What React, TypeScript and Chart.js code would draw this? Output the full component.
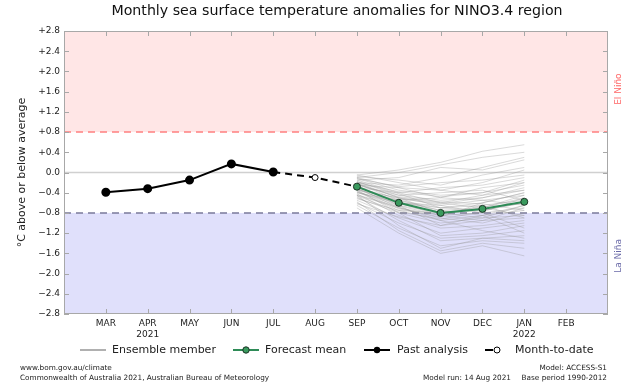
import React, { useEffect, useRef } from "react";
import { Chart, registerables } from "chart.js";

Chart.register(...registerables);

// Category slots: FEB 2021 (edge) ... MAR 2022 (edge)
const xLabels: (string | string[])[] = [
  "", "MAR", ["APR", "2021"], "MAY", "JUN", "JUL", "AUG", "SEP", "OCT", "NOV", "DEC", ["JAN", "2022"], "FEB", "",
];

const yTicks = [-2.8, -2.4, -2.0, -1.6, -1.2, -0.8, -0.4, 0, 0.4, 0.8, 1.2, 1.6, 2.0, 2.4, 2.8];

// Past analysis MAR..JUL 2021
const pastValues = [-0.39, -0.32, -0.15, 0.17, 0.01];
// Month-to-date AUG 2021
const monthToDate = -0.1;
// Forecast mean SEP 2021..JAN 2022
const meanValues = [-0.28, -0.6, -0.8, -0.72, -0.58];

// Ensemble members SEP..JAN
const ensembleMembers: number[][] = [
  [-0.05, 0.05, 0.2, 0.42, 0.55],
  [-0.1, 0.0, 0.15, 0.3, 0.4],
  [-0.15, -0.1, 0.1, 0.05, 0.25],
  [-0.2, -0.25, -0.1, 0.1, 0.3],
  [-0.08, -0.15, -0.25, -0.05, 0.1],
  [-0.25, -0.3, -0.35, -0.2, 0.05],
  [-0.12, -0.35, -0.45, -0.4, -0.15],
  [-0.3, -0.4, -0.3, -0.25, -0.1],
  [-0.18, -0.45, -0.55, -0.5, -0.3],
  [-0.35, -0.5, -0.6, -0.45, -0.2],
  [-0.22, -0.55, -0.7, -0.6, -0.4],
  [-0.28, -0.6, -0.65, -0.55, -0.45],
  [-0.4, -0.55, -0.75, -0.7, -0.5],
  [-0.32, -0.65, -0.8, -0.75, -0.6],
  [-0.26, -0.6, -0.85, -0.65, -0.55],
  [-0.45, -0.7, -0.85, -0.8, -0.7],
  [-0.2, -0.5, -0.8, -0.9, -0.65],
  [-0.38, -0.75, -0.95, -0.85, -0.75],
  [-0.3, -0.7, -0.9, -1.0, -0.8],
  [-0.5, -0.8, -1.0, -0.9, -0.85],
  [-0.27, -0.65, -1.05, -0.95, -0.7],
  [-0.42, -0.85, -1.1, -1.05, -0.95],
  [-0.55, -0.9, -1.2, -1.1, -1.0],
  [-0.35, -0.8, -1.25, -1.2, -1.05],
  [-0.6, -1.0, -1.3, -1.25, -1.15],
  [-0.48, -0.95, -1.35, -1.3, -1.25],
  [-0.65, -1.1, -1.45, -1.35, -1.4],
  [-0.58, -1.15, -1.55, -1.4, -1.5],
  [-0.7, -1.2, -1.6, -1.45, -1.65],
  [-0.45, -1.05, -1.5, -1.3, -1.35],
  [-0.15, -0.4, -0.6, -0.7, -0.85],
  [-0.1, -0.3, -0.5, -0.55, -0.65],
  [-0.25, -0.45, -0.4, -0.35, -0.55],
  [-0.33, -0.55, -0.5, -0.3, -0.2],
  [-0.05, -0.2, -0.35, -0.45, -0.35],
  [-0.4, -0.6, -0.7, -0.65, -0.9],
  [-0.36, -0.72, -0.88, -0.6, -0.4],
  [-0.22, -0.5, -0.65, -0.8, -1.1],
  [-0.52, -0.75, -0.8, -0.7, -0.45],
  [-0.28, -0.58, -0.75, -0.85, -1.2],
  [-0.44, -0.68, -0.95, -1.15, -1.3],
  [-0.18, -0.42, -0.7, -0.75, -0.6],
  [-0.3, -0.52, -0.62, -0.5, -0.35],
  [-0.62, -0.88, -1.05, -0.85, -0.65],
  [-0.12, -0.28, -0.2, -0.15, -0.05],
  [-0.34, -0.62, -0.78, -0.72, -0.58],
  [-0.46, -0.78, -0.92, -0.78, -0.5],
  [-0.24, -0.48, -0.58, -0.62, -0.75],
  [-0.38, -0.66, -0.85, -0.95, -0.9],
  [-0.2, -0.38, -0.48, -0.4, -0.25],
];

const FONT = "'DejaVu Sans', sans-serif";
const PAST_START = 1; // MAR
const FCST_START = 7; // SEP

function place(values: number[], start: number): (number | null)[] {
  const out: (number | null)[] = xLabels.map(() => null);
  values.forEach((v, i) => (out[start + i] = v));
  return out;
}

const decorPlugin = {
  id: "decor",
  beforeDatasetsDraw(chart: any) {
    const { ctx, chartArea: a, scales } = chart;
    const y = scales.y;
    ctx.save();
    // shading
    ctx.fillStyle = "#ffe6e6";
    ctx.fillRect(a.left, y.getPixelForValue(2.8), a.right - a.left, y.getPixelForValue(0.8) - y.getPixelForValue(2.8));
    ctx.fillStyle = "#e0e0fb";
    ctx.fillRect(a.left, y.getPixelForValue(-0.8), a.right - a.left, y.getPixelForValue(-2.8) - y.getPixelForValue(-0.8));
    // zero line
    ctx.strokeStyle = "#d0d0d0";
    ctx.lineWidth = 1.5;
    ctx.beginPath();
    ctx.moveTo(a.left, y.getPixelForValue(0));
    ctx.lineTo(a.right, y.getPixelForValue(0));
    ctx.stroke();
    // thresholds
    ctx.setLineDash([7, 5]);
    ctx.strokeStyle = "#ff8080";
    ctx.beginPath();
    ctx.moveTo(a.left, y.getPixelForValue(0.8));
    ctx.lineTo(a.right, y.getPixelForValue(0.8));
    ctx.stroke();
    ctx.strokeStyle = "#7a7a9a";
    ctx.beginPath();
    ctx.moveTo(a.left, y.getPixelForValue(-0.8));
    ctx.lineTo(a.right, y.getPixelForValue(-0.8));
    ctx.stroke();
    ctx.restore();
  },
  afterDraw(chart: any) {
    const { ctx, chartArea: a, scales } = chart;
    const x = scales.x;
    const y = scales.y;
    ctx.save();
    // spines
    ctx.strokeStyle = "#a8a8a8";
    ctx.lineWidth = 1;
    ctx.strokeRect(a.left + 0.5, a.top + 0.5, a.right - a.left - 1, a.bottom - a.top - 1);
    // inward ticks
    ctx.beginPath();
    yTicks.forEach((v) => {
      const py = Math.round(y.getPixelForValue(v)) + 0.5;
      ctx.moveTo(a.left, py);
      ctx.lineTo(a.left + 5, py);
      ctx.moveTo(a.right, py);
      ctx.lineTo(a.right - 5, py);
    });
    for (let i = 1; i < xLabels.length - 1; i++) {
      const px = Math.round(x.getPixelForValue(i)) + 0.5;
      ctx.moveTo(px, a.bottom);
      ctx.lineTo(px, a.bottom - 5);
      ctx.moveTo(px, a.top);
      ctx.lineTo(px, a.top + 5);
    }
    ctx.stroke();

    // title
    ctx.fillStyle = "#111";
    ctx.textAlign = "center";
    ctx.textBaseline = "middle";
    ctx.font = `14.2px ${FONT}`;
    ctx.fillText("Monthly sea surface temperature anomalies for NINO3.4 region", 337, 11);

    // y-axis label
    ctx.save();
    ctx.translate(22, (a.top + a.bottom) / 2);
    ctx.rotate(-Math.PI / 2);
    ctx.font = `11px ${FONT}`;
    ctx.fillStyle = "#222";
    ctx.fillText("°C above or below average", 0, 0);
    ctx.restore();

    // El Niño / La Niña
    ctx.font = `9px ${FONT}`;
    ctx.save();
    ctx.translate(619, y.getPixelForValue(1.65));
    ctx.rotate(-Math.PI / 2);
    ctx.fillStyle = "#ff6666";
    ctx.fillText("El Niño", 0, 0);
    ctx.restore();
    ctx.save();
    ctx.translate(619, y.getPixelForValue(-1.65));
    ctx.rotate(-Math.PI / 2);
    ctx.fillStyle = "#6a6aa8";
    ctx.fillText("La Niña", 0, 0);
    ctx.restore();

    // legend
    const ly = 350;
    ctx.font = `11px ${FONT}`;
    ctx.textAlign = "left";
    ctx.fillStyle = "#222";
    ctx.lineWidth = 2;
    // ensemble
    ctx.strokeStyle = "#b0b0b0";
    ctx.beginPath(); ctx.moveTo(80, ly); ctx.lineTo(106, ly); ctx.stroke();
    ctx.fillText("Ensemble member", 112, ly);
    // forecast mean
    ctx.strokeStyle = "#2e8b57";
    ctx.beginPath(); ctx.moveTo(233, ly); ctx.lineTo(259, ly); ctx.stroke();
    ctx.beginPath(); ctx.arc(246, ly, 3.2, 0, Math.PI * 2);
    ctx.fillStyle = "#3a9a5e"; ctx.fill();
    ctx.lineWidth = 1; ctx.strokeStyle = "#1b3324"; ctx.stroke();
    ctx.fillStyle = "#222";
    ctx.fillText("Forecast mean", 265, ly);
    // past analysis
    ctx.lineWidth = 2;
    ctx.strokeStyle = "#000";
    ctx.beginPath(); ctx.moveTo(364, ly); ctx.lineTo(390, ly); ctx.stroke();
    ctx.beginPath(); ctx.arc(377, ly, 3.2, 0, Math.PI * 2);
    ctx.fillStyle = "#000"; ctx.fill();
    ctx.fillStyle = "#222";
    ctx.fillText("Past analysis", 397, ly);
    // month-to-date
    ctx.beginPath(); ctx.moveTo(485, ly); ctx.lineTo(493, ly); ctx.stroke();
    ctx.lineWidth = 1;
    ctx.beginPath(); ctx.arc(497, ly, 3, 0, Math.PI * 2);
    ctx.fillStyle = "#fff"; ctx.fill(); ctx.strokeStyle = "#000"; ctx.stroke();
    ctx.fillStyle = "#222";
    ctx.fillText("Month-to-date", 515, ly);

    // footer
    ctx.font = `7.3px ${FONT}`;
    ctx.fillStyle = "#222";
    ctx.textAlign = "left";
    ctx.fillText("www.bom.gov.au/climate", 20, 368);
    ctx.fillText("Commonwealth of Australia 2021, Australian Bureau of Meteorology", 20, 378);
    ctx.fillText("Model run: 14 Aug 2021", 423, 378);
    ctx.textAlign = "right";
    ctx.fillText("Model: ACCESS-S1", 607, 368);
    ctx.fillText("Base period 1990-2012", 607, 378);
    ctx.restore();
  },
};

export default function App() {
  const ref = useRef<HTMLCanvasElement | null>(null);
  useEffect(() => {
    if (!ref.current) return;
    const ensembleSets = ensembleMembers.map((m) => ({
      data: place(m, FCST_START),
      borderColor: "rgba(150,150,150,0.35)",
      borderWidth: 1,
      pointRadius: 0,
      order: 4,
    }));
    const mtdData = place([pastValues[pastValues.length - 1], monthToDate, meanValues[0]], PAST_START + pastValues.length - 1);
    const chart = new Chart(ref.current, {
      type: "line",
      data: {
        labels: xLabels as any,
        datasets: [
          ...ensembleSets,
          {
            data: mtdData,
            borderColor: "#000",
            borderWidth: 2,
            borderDash: [7, 5],
            pointRadius: mtdData.map((_, i) => (i === PAST_START + pastValues.length ? 3 : 0)),
            pointBackgroundColor: "#fff",
            pointBorderColor: "#000",
            pointBorderWidth: 1,
            order: 3,
          },
          {
            data: place(pastValues, PAST_START),
            borderColor: "#000",
            borderWidth: 2,
            pointRadius: 3.5,
            pointBackgroundColor: "#000",
            pointBorderColor: "#000",
            order: 2,
          },
          {
            data: place(meanValues, FCST_START),
            borderColor: "#2e8b57",
            borderWidth: 2,
            pointRadius: 3.5,
            pointBackgroundColor: "#3a9a5e",
            pointBorderColor: "#1b3324",
            pointBorderWidth: 1,
            order: 1,
          },
        ] as any,
      },
      options: {
        animation: false,
        responsive: false,
        events: [],
        layout: { padding: { top: 31, right: 32, left: 0, bottom: 0 } },
        plugins: { legend: { display: false }, title: { display: false }, tooltip: { enabled: false } },
        scales: {
          x: {
            type: "category",
            offset: false,
            grid: { display: false, drawTicks: false },
            border: { display: false },
            ticks: {
              autoSkip: false,
              maxRotation: 0,
              padding: 4,
              color: "#222",
              font: { family: FONT, size: 9 },
            },
            afterFit: (s: any) => { s.height = 70; },
          },
          y: {
            min: -2.8,
            max: 2.8,
            grid: { display: false, drawTicks: false },
            border: { display: false },
            afterBuildTicks: (s: any) => { s.ticks = yTicks.map((v) => ({ value: v })); },
            ticks: {
              padding: 4,
              color: "#222",
              font: { family: FONT, size: 9 },
              callback: (v: any) => {
                const n = Number(v);
                if (Math.abs(n) < 1e-9) return "0.0";
                return n > 0 ? "+" + n.toFixed(1) : "\u2212" + Math.abs(n).toFixed(1);
              },
            },
            afterFit: (s: any) => { s.width = 64; },
          },
        },
      } as any,
      plugins: [decorPlugin],
    });
    return () => chart.destroy();
  }, []);
  return (
    <div style={{ position: "absolute", left: 0, top: 0, width: 640, height: 384, background: "#fff" }}>
      <canvas ref={ref} width={640} height={384} style={{ display: "block" }} />
    </div>
  );
}
